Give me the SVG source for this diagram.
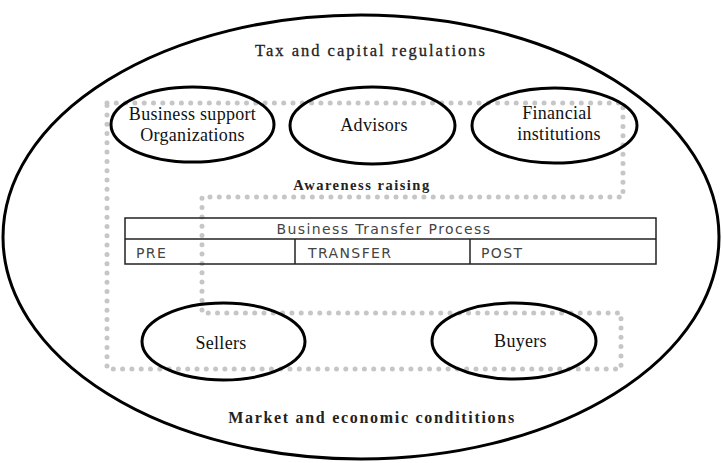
<svg xmlns="http://www.w3.org/2000/svg" width="723" height="463" viewBox="0 0 723 463">
<style>
.outer{fill:none;stroke:#000;stroke-width:3}
.node{fill:none;stroke:#000;stroke-width:3}
.lbl{font-family:"Liberation Serif",serif;font-size:18px;fill:#111;text-anchor:middle;letter-spacing:0.3px}
.ctx{font-family:"Liberation Serif",serif;font-size:16.5px;fill:#222;text-anchor:middle;letter-spacing:2px}
.dots{fill:none;stroke:#c6c6c6;stroke-width:5;stroke-linecap:round;stroke-dasharray:0 9.3}
.tbl{fill:none;stroke:#222;stroke-width:1.5}
.tt{font-family:"DejaVu Sans",sans-serif;font-size:14px;fill:#444;letter-spacing:1.4px}
</style>
<rect width="723" height="463" fill="#fff"/>
<g id="context">
<ellipse class="outer" cx="361" cy="237" rx="358" ry="222"/>
<text class="ctx" x="371" y="56" stroke="#222" stroke-width="0.3">Tax and capital regulations</text>
<text class="ctx" x="372" y="423" font-weight="bold" style="font-size:16px;letter-spacing:1.7px">Market and economic condititions</text>
</g>
<g id="connectors">
<polygon class="dots" points="107,103 623,103 623,197 202,197 202,313 621,313 621,369 107,369"/>
<text class="ctx" x="362" y="190" font-weight="bold" style="font-size:14.5px;letter-spacing:1.5px">Awareness raising</text>
</g>
<g id="process">
<rect class="tbl" x="125" y="218" width="531" height="46"/>
<line class="tbl" x1="125" y1="239" x2="656" y2="239"/>
<line class="tbl" x1="295" y1="239" x2="295" y2="264"/>
<line class="tbl" x1="470" y1="239" x2="470" y2="264"/>
<text class="tt" x="384" y="234" text-anchor="middle">Business Transfer Process</text>
<text class="tt" x="136" y="258">PRE</text>
<text class="tt" x="308" y="258">TRANSFER</text>
<text class="tt" x="481" y="258">POST</text>
</g>
<g id="bso">
<ellipse class="node" cx="192.5" cy="124.5" rx="81.5" ry="37.5"/>
<text class="lbl" x="192.5" y="120">Business support</text>
<text class="lbl" x="192.5" y="141">Organizations</text>
</g>
<g id="advisors">
<ellipse class="node" cx="372.5" cy="125.5" rx="82.5" ry="38.5"/>
<text class="lbl" x="374" y="131">Advisors</text>
</g>
<g id="financial">
<ellipse class="node" cx="554.5" cy="125.5" rx="82.5" ry="37.5"/>
<text class="lbl" x="557" y="119">Financial</text>
<text class="lbl" x="559" y="140">institutions</text>
</g>
<g id="sellers">
<ellipse class="node" cx="223.5" cy="341.5" rx="81.5" ry="38.5"/>
<text class="lbl" x="221" y="349">Sellers</text>
</g>
<g id="buyers">
<ellipse class="node" cx="514" cy="341" rx="82" ry="38"/>
<text class="lbl" x="520.5" y="347">Buyers</text>
</g>
</svg>
